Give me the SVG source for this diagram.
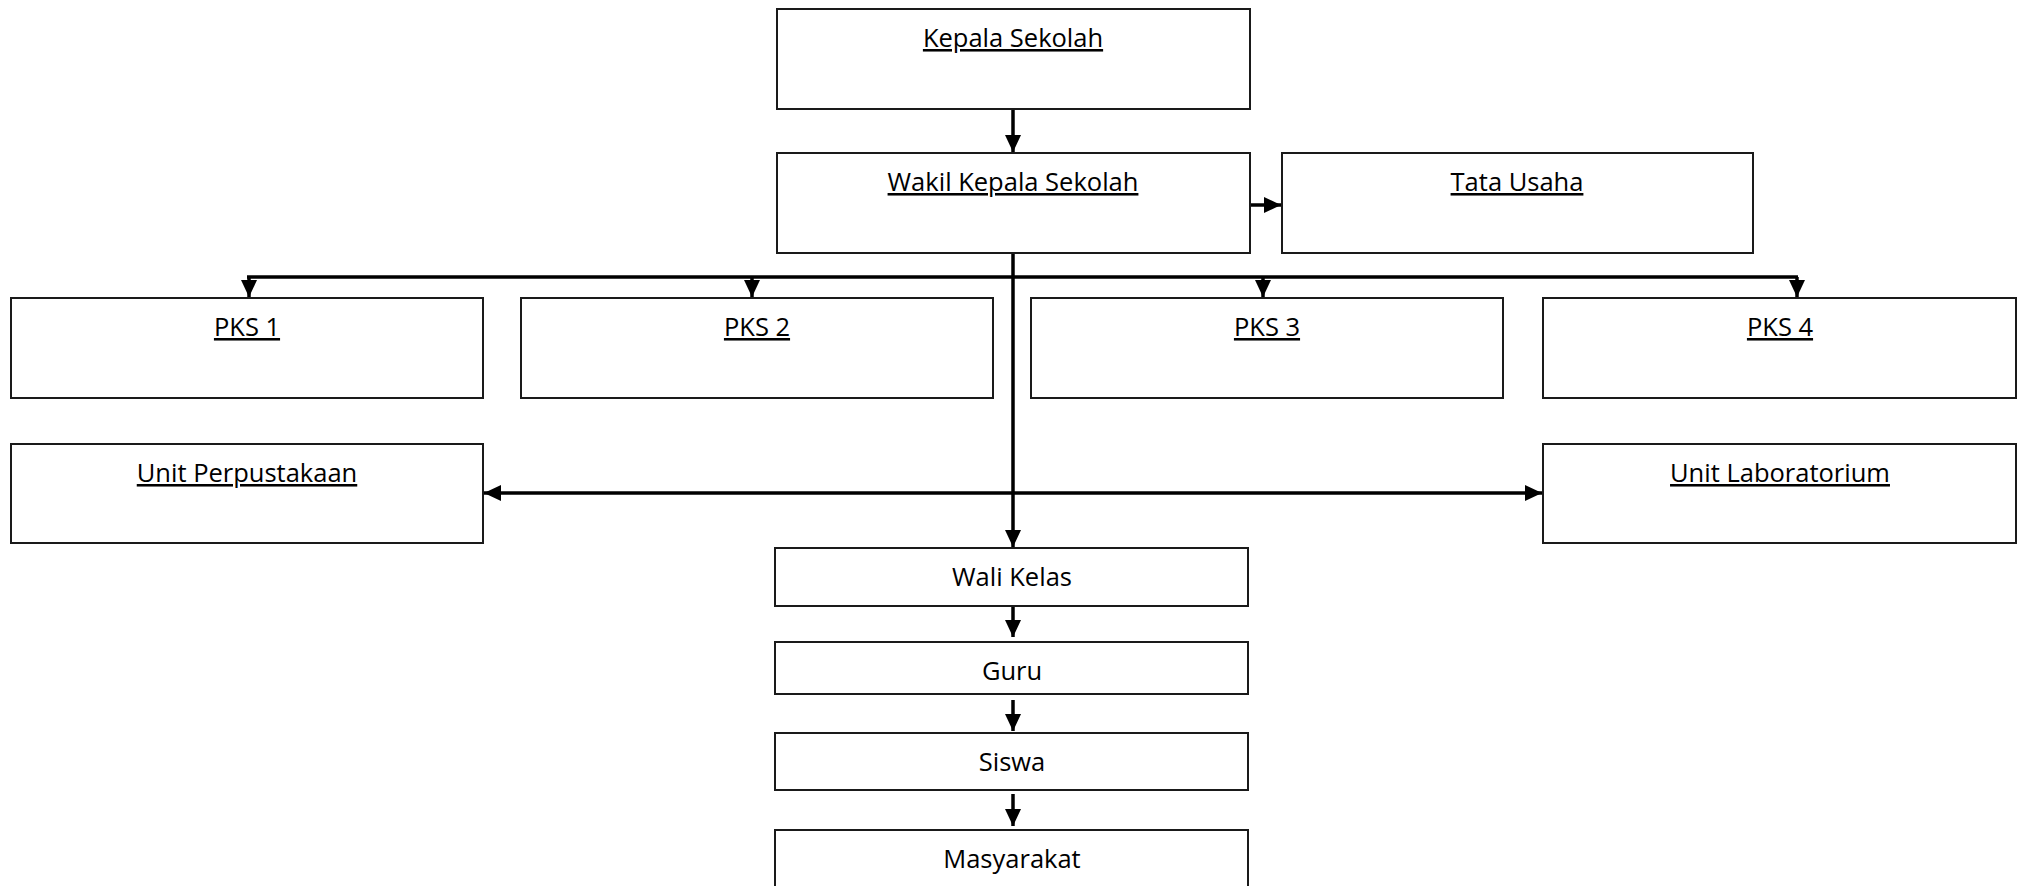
<svg xmlns="http://www.w3.org/2000/svg" width="2022" height="886" viewBox="0 0 2022 886">
<style>
.box{fill:#fff;stroke:#1a1a1a;stroke-width:2}
.t{font-family:"Open Sans","Liberation Sans",sans-serif;font-size:25.5px;fill:#000;text-anchor:middle}
.u{text-decoration:underline;text-decoration-thickness:2px}
.c{fill:none;stroke:#000;stroke-width:3.5}
</style>
<defs>
<marker id="ah" markerUnits="userSpaceOnUse" markerWidth="18" markerHeight="16" viewBox="0 0 18 16" refX="17" refY="8" orient="auto-start-reverse">
<path d="M0,0 L17,8 L0,16 Z" fill="#000"/>
</marker>
</defs>
<rect width="2022" height="886" fill="#fff"/>
<g id="connectors">
<line class="c" x1="1013" y1="109" x2="1013" y2="152" marker-end="url(#ah)"/>
<line class="c" x1="1251" y1="205" x2="1281" y2="205" marker-end="url(#ah)"/>
<line class="c" x1="247" y1="277" x2="1798" y2="277"/>
<line class="c" x1="249" y1="277" x2="249" y2="297" marker-end="url(#ah)"/>
<line class="c" x1="752" y1="277" x2="752" y2="297" marker-end="url(#ah)"/>
<line class="c" x1="1263" y1="277" x2="1263" y2="297" marker-end="url(#ah)"/>
<line class="c" x1="1797" y1="277" x2="1797" y2="297" marker-end="url(#ah)"/>
<line class="c" x1="1013" y1="253" x2="1013" y2="547" marker-end="url(#ah)"/>
<line class="c" x1="484" y1="493" x2="1542" y2="493" marker-start="url(#ah)" marker-end="url(#ah)"/>
<line class="c" x1="1013" y1="606" x2="1013" y2="637" marker-end="url(#ah)"/>
<line class="c" x1="1013" y1="700" x2="1013" y2="731" marker-end="url(#ah)"/>
<line class="c" x1="1013" y1="794" x2="1013" y2="826" marker-end="url(#ah)"/>
</g>
<g id="kepala"><rect class="box" x="777" y="9" width="473" height="100"/><text class="t u" x="1013" y="47">Kepala Sekolah</text></g>
<g id="wakil"><rect class="box" x="777" y="153" width="473" height="100"/><text class="t u" x="1013" y="191">Wakil Kepala Sekolah</text></g>
<g id="tata"><rect class="box" x="1282" y="153" width="471" height="100"/><text class="t u" x="1517" y="191">Tata Usaha</text></g>
<g id="pks1"><rect class="box" x="11" y="298" width="472" height="100"/><text class="t u" x="247" y="336">PKS 1</text></g>
<g id="pks2"><rect class="box" x="521" y="298" width="472" height="100"/><text class="t u" x="757" y="336">PKS 2</text></g>
<g id="pks3"><rect class="box" x="1031" y="298" width="472" height="100"/><text class="t u" x="1267" y="336">PKS 3</text></g>
<g id="pks4"><rect class="box" x="1543" y="298" width="473" height="100"/><text class="t u" x="1780" y="336">PKS 4</text></g>
<g id="perpustakaan"><rect class="box" x="11" y="444" width="472" height="99"/><text class="t u" x="247" y="482">Unit Perpustakaan</text></g>
<g id="laboratorium"><rect class="box" x="1543" y="444" width="473" height="99"/><text class="t u" x="1780" y="482">Unit Laboratorium</text></g>
<g id="walikelas"><rect class="box" x="775" y="548" width="473" height="58"/><text class="t" x="1012" y="586">Wali Kelas</text></g>
<g id="guru"><rect class="box" x="775" y="642" width="473" height="52"/><text class="t" x="1012" y="680">Guru</text></g>
<g id="siswa"><rect class="box" x="775" y="733" width="473" height="57"/><text class="t" x="1012" y="771">Siswa</text></g>
<g id="masyarakat"><rect class="box" x="775" y="830" width="473" height="80"/><text class="t" x="1012" y="868">Masyarakat</text></g>
</svg>
